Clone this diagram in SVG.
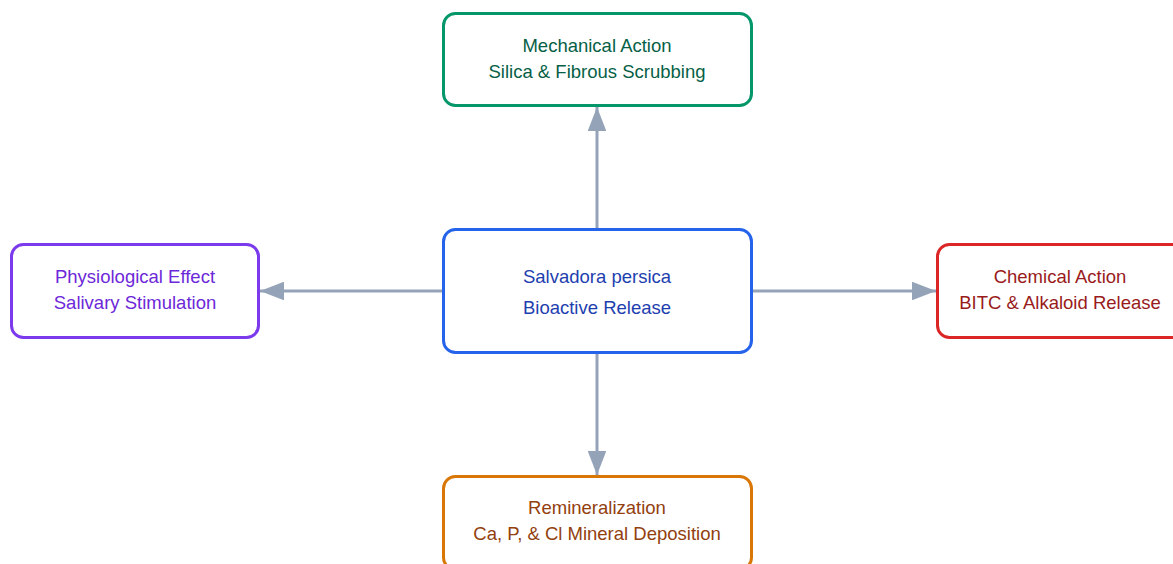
<svg xmlns="http://www.w3.org/2000/svg" width="1173" height="564" viewBox="0 0 1173 564">
<defs>
<marker id="arr" viewBox="0 0 10 10" refX="10" refY="5" markerWidth="8" markerHeight="6.2" markerUnits="strokeWidth" orient="auto" preserveAspectRatio="none">
<path d="M0,0 L10,5 L0,10 z" fill="#94a3b8"/>
</marker>
<style>
.box{fill:#ffffff;stroke-width:3}
.t{font-family:"Liberation Sans",Arial,sans-serif;font-size:18.5px;text-anchor:middle}
.edge{stroke:#94a3b8;stroke-width:3;fill:none}
</style>
</defs>
<rect width="1173" height="564" fill="#ffffff"/>
<g id="connectors">
<line class="edge" x1="597" y1="229" x2="597" y2="107" marker-end="url(#arr)"/>
<line class="edge" x1="443" y1="291" x2="260" y2="291" marker-end="url(#arr)"/>
<line class="edge" x1="752" y1="291" x2="936" y2="291" marker-end="url(#arr)"/>
<line class="edge" x1="597" y1="353" x2="597" y2="475" marker-end="url(#arr)"/>
</g>
<g id="node-mechanical">
<rect class="box" x="443.5" y="13.5" width="308" height="92" rx="12" stroke="#059669"/>
<text class="t" x="597" y="51.5" fill="#065f46">Mechanical Action</text>
<text class="t" x="597" y="77.5" fill="#065f46">Silica &amp; Fibrous Scrubbing</text>
</g>
<g id="node-center">
<rect class="box" x="443.5" y="229.5" width="308" height="123" rx="12" stroke="#2563eb"/>
<text class="t" x="597" y="282.5" fill="#1e40af">Salvadora persica</text>
<text class="t" x="597" y="313.5" fill="#1e40af">Bioactive Release</text>
</g>
<g id="node-chemical">
<rect class="box" x="937.5" y="244.5" width="247" height="93" rx="12" stroke="#dc2626"/>
<text class="t" x="1060" y="282.5" fill="#991b1b">Chemical Action</text>
<text class="t" x="1060" y="308.5" fill="#991b1b">BITC &amp; Alkaloid Release</text>
</g>
<g id="node-physiological">
<rect class="box" x="11.5" y="244.5" width="247" height="93" rx="12" stroke="#7c3aed"/>
<text class="t" x="135" y="282.5" fill="#6d28d9">Physiological Effect</text>
<text class="t" x="135" y="308.5" fill="#6d28d9">Salivary Stimulation</text>
</g>
<g id="node-remineralization">
<rect class="box" x="443.5" y="476.5" width="308" height="93" rx="12" stroke="#d97706"/>
<text class="t" x="597" y="513.5" fill="#92400e">Remineralization</text>
<text class="t" x="597" y="539.5" fill="#92400e">Ca, P, &amp; Cl Mineral Deposition</text>
</g>
</svg>
